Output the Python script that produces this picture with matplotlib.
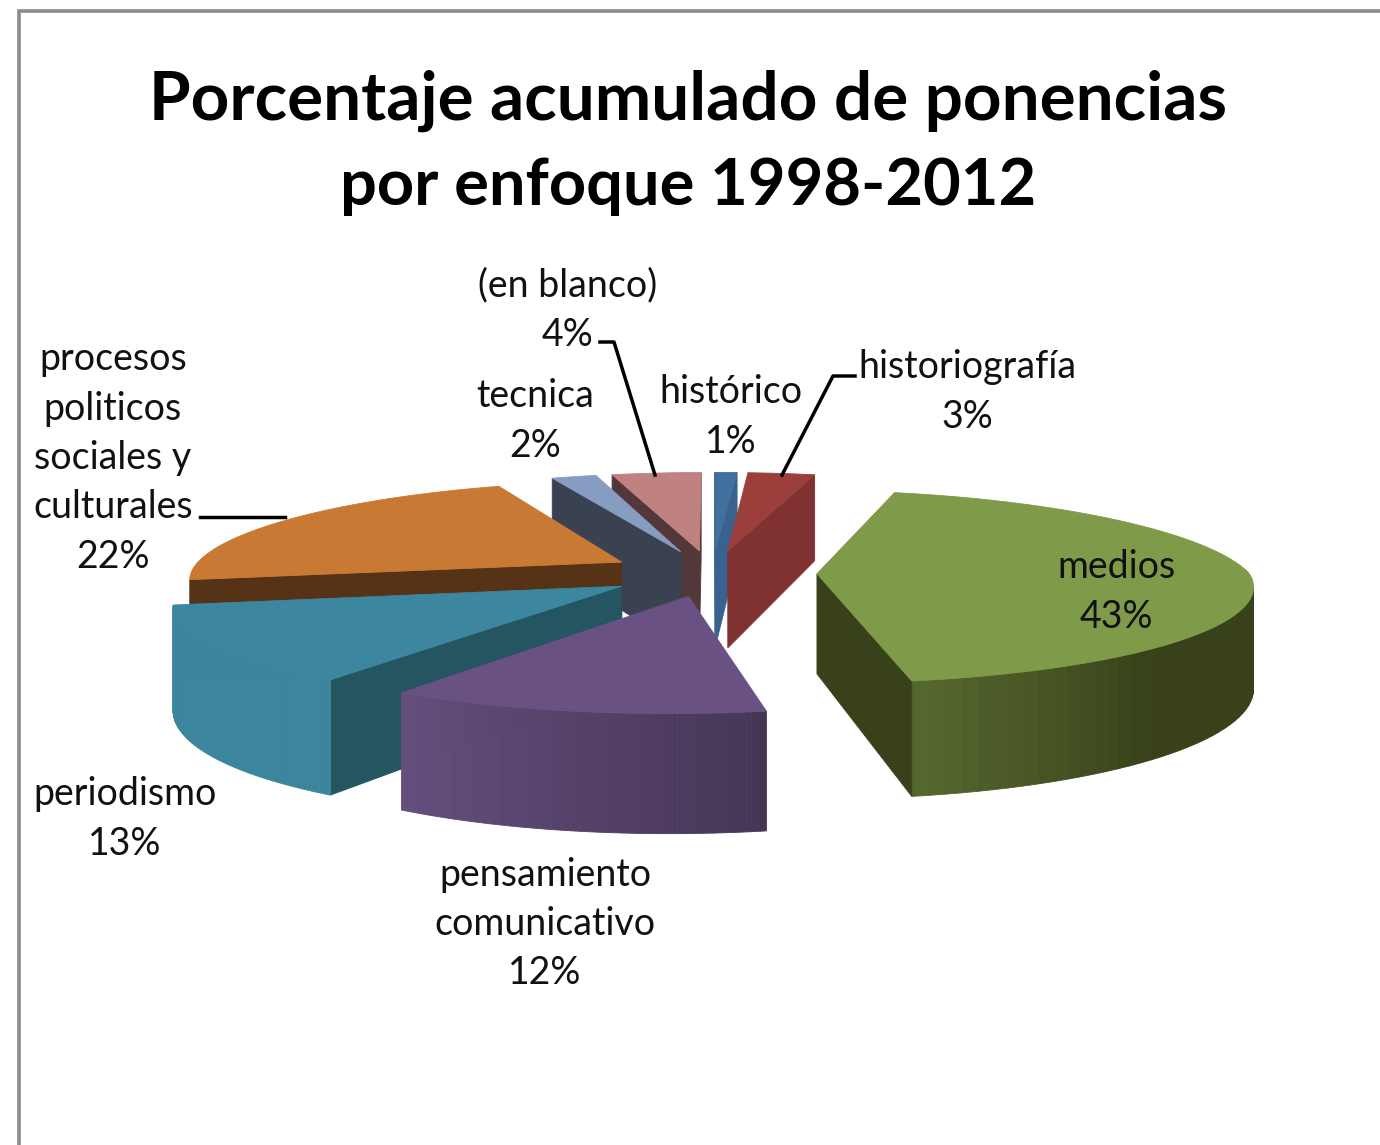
import matplotlib
matplotlib.use('Agg')
import matplotlib.pyplot as plt
import numpy as np
from matplotlib.colors import to_rgb

# order runs clockwise from 12 o'clock
nombres = ['histórico', 'historiografía', 'medios', 'pensamiento\ncomunicativo', 'periodismo',
           'procesos\npoliticos\nsociales y\nculturales', 'tecnica', '(en blanco)']
porcentajes = [1, 3, 43, 12, 13, 22, 2, 4]

col_top = ['#41709f', '#9c3e3c', '#7f9a48', '#6a5184', '#3c879f', '#c87a35', '#879cc1', '#c08280']
col_side = ['#3a628f', '#7f3231', '#384119', '#453656', '#255560', '#563216', '#3a4150', '#543738']
col_wall_a = ['#3a628f', '#7f3231', '#56692f', '#654e7d', '#3b869d', '#563216', '#3a4150', '#543738']
col_wall_b = ['#3a628f', '#7f3231', '#384119', '#453656', '#3b869d', '#563216', '#3a4150', '#543738']
fade = [1, 1, 0.22, 1, 1, 1, 1, 1]  # part of the arc the wall gradient covers

pos_x = [731, 967, 1116, 545, 125, 113, 535, 568]
pos_y = [417, 392, 592, 924, 819, 458, 421, 310]

# camera and pie geometry
CX = 712
HORIZON = -127
CAM_H = 700
DEPTH = 100
D = 3200
R = 432
EXPLODE = 105
BACK_SQUEEZE = 0.03  # extra narrowing towards the back
FRONT_SHEAR = 0.03  # the front of the pie leans left


def project(X, Y, z):
    s = D / (D + Y)
    Xv = X * (1 - BACK_SQUEEZE * np.maximum(Y, 0) / R) + FRONT_SHEAR * np.minimum(Y, 0)
    return CX + Xv * s, HORIZON + (CAM_H + DEPTH - z) * s


def mix(a, b, t):
    a, b = np.array(to_rgb(a)), np.array(to_rgb(b))
    return tuple(a + (b - a) * t)


fig = plt.figure(figsize=(13.8, 11.45), dpi=100)
ax = fig.add_axes([0, 0, 1, 1])
ax.set_xlim(0, 1380)
ax.set_ylim(1145, 0)
ax.axis('off')

# frame of the chart area, open at the right and bottom
ax.plot([19, 19, 1380], [1145, 11, 11], color='#8c8c8c', lw=2.6, solid_joinstyle='miter')

fracs = np.array(porcentajes) / sum(porcentajes)
ends = np.cumsum(fracs) * 2 * np.pi
starts = ends - fracs * 2 * np.pi
mids = (starts + ends) / 2

# back slices first so the nearer ones cover them
order = np.argsort(-np.cos(mids))
for i in order:
    ox = EXPLODE * np.sin(mids[i])
    oy = EXPLODE * np.cos(mids[i])
    th = np.linspace(starts[i], ends[i], 80)
    X = np.r_[ox, ox + R * np.sin(th)]
    Y = np.r_[oy, oy + R * np.cos(th)]
    xt, yt = project(X, Y, DEPTH)
    xb, yb = project(X, Y, 0)

    n = len(X)
    for j in range(n):
        k = (j + 1) % n
        # clockwise outline: a wall faces the viewer when it runs leftwards
        if xt[k] >= xt[j]:
            continue
        if j == 0 or j == n - 1:
            c = col_side[i]
        else:
            t = (ends[i] - th[j - 1]) / ((ends[i] - starts[i]) * fade[i])
            c = mix(col_wall_a[i], col_wall_b[i], min(t, 1))
        ax.fill([xt[j], xt[k], xb[k], xb[j]], [yt[j], yt[k], yb[k], yb[j]],
                facecolor=c, edgecolor=c, lw=0.6)
    ax.fill(xt, yt, facecolor=col_top[i], edgecolor=col_top[i], lw=0.6)

# leader lines
ax.plot([600, 614, 655], [342, 342, 475], color='black', lw=2.5)
ax.plot([855, 833, 782], [376, 376, 475], color='black', lw=2.5)
ax.plot([200, 285], [517, 517], color='black', lw=2.5)

for nombre, p, x, y in zip(nombres, porcentajes, pos_x, pos_y):
    ax.text(x, y, f'{nombre}\n{p}%', ha='center', va='center', family='Lato',
            fontsize=27, linespacing=1.46, color='#111111')

ax.text(688, 101, 'Porcentaje acumulado de ponencias', ha='center', va='center',
        family='Lato', fontweight='bold', fontsize=48.5, color='black')
ax.text(688, 187, 'por enfoque 1998-2012', ha='center', va='center',
        family='Lato', fontweight='bold', fontsize=46.8, color='black')

fig.savefig('out.png', dpi=100)
